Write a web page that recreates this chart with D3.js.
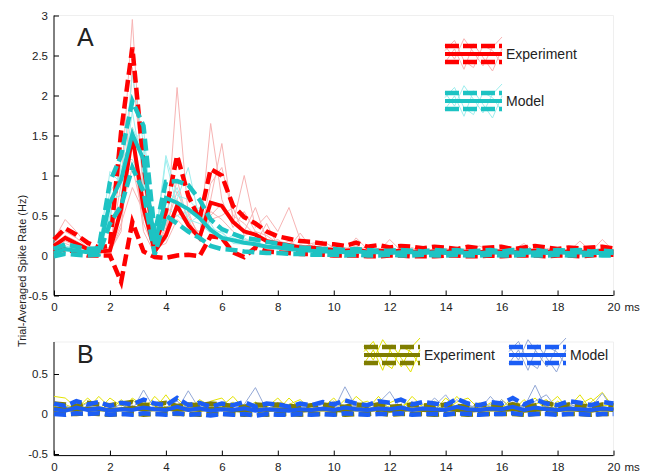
<!DOCTYPE html>
<html>
<head>
<meta charset="utf-8">
<script src="https://cdnjs.cloudflare.com/ajax/libs/d3/7.8.5/d3.min.js"></script>
<style>
body { margin: 0; background: #fff; }
text { font-family: "Liberation Sans", Arial, sans-serif; fill: #222; }
</style>
</head>
<body>
<script>
// time bins (ms)
var timeMs = [0,0.4,0.8,1.2,1.6,2,2.4,2.8,3.2,3.6,4,4.4,4.8,5.2,5.6,6,6.4,6.8,7.2,7.6,8,8.4,8.8,9.2,9.6,10,
  10.4,10.8,11.2,11.6,12,12.4,12.8,13.2,13.6,14,14.4,14.8,15.2,15.6,16,16.4,16.8,17.2,17.6,18,18.4,18.8,19.2,19.6,20];
var xTicks = [0,2,4,6,8,10,12,14,16,18,20];
var yTicksA = [-0.5,0,0.5,1,1.5,2,2.5,3];
var yTicksB = [-0.5,0,0.5];

// panel A : experiment (mean, mean+sd, mean-sd)
var expMeanA = [0.12,0.22,0.15,0.08,0.05,0.06,0.58,1.50,0.60,0.05,0.25,0.62,0.38,0.22,0.66,0.62,0.42,0.30,0.26,0.18,0.15,0.13,0.10,0.10,0.08,0.07,
  0.06,0.07,0.05,0.06,0.05,0.06,0.05,0.04,0.05,0.05,0.04,0.05,0.04,0.05,0.05,0.04,0.05,0.06,0.05,0.04,0.05,0.04,0.05,0.06,0.05];
var expUpperA = [0.20,0.34,0.26,0.16,0.10,0.12,1.55,2.60,1.15,0.12,0.55,1.25,0.75,0.45,1.08,1.00,0.62,0.48,0.40,0.30,0.24,0.21,0.18,0.17,0.15,0.14,
  0.12,0.16,0.11,0.13,0.10,0.12,0.11,0.09,0.11,0.10,0.08,0.11,0.09,0.10,0.11,0.08,0.10,0.12,0.10,0.08,0.10,0.09,0.10,0.11,0.09];
var expLowerA = [0.04,0.08,0.04,0.00,0.00,0.00,-0.33,0.42,0.05,-0.02,-0.03,0.00,0.01,-0.01,0.24,0.22,0.04,-0.02,0.10,0.05,0.04,0.03,0.02,0.02,0.01,0.00,
  0.00,0.00,-0.01,-0.01,0.00,0.00,-0.01,-0.01,-0.01,0.00,0.00,-0.01,-0.01,0.00,-0.01,0.00,0.00,0.00,-0.01,0.00,0.00,-0.01,0.00,0.01,0.01];
// panel A : model
var modMeanA = [0.03,0.08,0.06,0.04,0.05,0.66,0.95,1.52,1.20,0.14,0.72,0.66,0.58,0.47,0.32,0.22,0.19,0.16,0.14,0.11,0.10,0.08,0.07,0.06,0.05,0.05,
  0.04,0.05,0.04,0.04,0.03,0.04,0.04,0.03,0.04,0.03,0.04,0.03,0.03,0.04,0.03,0.04,0.03,0.04,0.03,0.04,0.03,0.04,0.03,0.03,0.03];
var modUpperA = [0.08,0.14,0.11,0.08,0.09,0.92,1.25,1.93,1.62,0.28,0.92,0.93,0.88,0.70,0.45,0.33,0.27,0.22,0.20,0.17,0.15,0.12,0.10,0.09,0.08,0.08,
  0.07,0.08,0.07,0.06,0.06,0.07,0.06,0.05,0.07,0.06,0.07,0.05,0.06,0.07,0.05,0.07,0.06,0.07,0.05,0.07,0.06,0.07,0.05,0.06,0.05];
var modLowerA = [-0.01,0.02,0.01,0.00,0.01,0.40,0.62,1.10,0.80,0.01,0.50,0.40,0.30,0.22,0.12,0.08,0.07,0.05,0.04,0.03,0.03,0.02,0.02,0.01,0.01,0.01,
  0.00,0.01,0.00,0.00,0.01,0.00,0.00,0.01,0.00,0.00,0.01,0.00,0.00,0.01,0.00,0.00,0.01,0.00,0.00,0.01,0.00,0.00,0.01,0.00,0.00];

// panel A : single trials
var expTrialsA = [
  [0.15,0.30,0.22,0.10,0.05,0.08,0.90,2.95,0.70,0.05,0.30,0.95,0.40,0.20,0.90,1.10,0.50,0.40,0.25,0.20,0.12,0.18,0.10,0.12,0.08,0.10,
   0.05,0.10,0.06,0.08,0.04,0.10,0.06,0.05,0.08,0.06,0.05,0.07,0.04,0.08,0.06,0.05,0.09,0.07,0.05,0.04,0.08,0.05,0.06,0.09,0.05],
  [0.10,0.18,0.12,0.06,0.04,0.05,0.30,2.35,0.90,0.08,0.20,2.10,0.50,0.25,0.45,0.50,0.60,0.25,0.30,0.15,0.20,0.10,0.14,0.08,0.10,0.06,
   0.08,0.05,0.12,0.04,0.06,0.08,0.05,0.10,0.04,0.07,0.06,0.09,0.05,0.06,0.04,0.08,0.05,0.10,0.06,0.05,0.07,0.04,0.08,0.05,0.06],
  [0.20,0.45,0.30,0.12,0.08,0.04,1.20,1.40,0.30,0.02,0.35,0.80,0.45,0.20,1.65,0.70,0.35,0.55,0.30,0.25,0.15,0.12,0.08,0.15,0.06,0.05,
   0.10,0.06,0.04,0.09,0.07,0.05,0.10,0.04,0.06,0.05,0.10,0.04,0.06,0.05,0.08,0.05,0.06,0.04,0.09,0.06,0.05,0.08,0.05,0.07,0.06],
  [0.08,0.25,0.18,0.10,0.06,0.10,0.55,1.10,0.50,0.10,0.15,0.45,0.30,0.25,0.70,1.40,0.45,0.30,0.60,0.20,0.18,0.15,0.12,0.10,0.12,0.08,
   0.06,0.08,0.05,0.06,0.08,0.04,0.05,0.06,0.05,0.09,0.04,0.05,0.07,0.04,0.06,0.05,0.04,0.06,0.05,0.08,0.04,0.06,0.05,0.06,0.04],
  [0.10,0.15,0.10,0.08,0.04,0.06,0.40,0.85,0.55,0.02,0.40,0.50,0.55,0.20,0.55,0.45,0.30,0.20,0.15,0.40,0.12,0.10,0.28,0.09,0.07,0.12,
   0.05,0.22,0.08,0.05,0.20,0.06,0.04,0.07,0.05,0.06,0.08,0.05,0.12,0.06,0.05,0.07,0.15,0.05,0.06,0.07,0.05,0.18,0.05,0.20,0.06],
  [0.12,0.20,0.14,0.08,0.05,0.04,0.35,1.60,0.40,0.06,0.20,0.70,0.35,0.30,0.50,0.65,0.40,1.00,0.35,0.50,0.30,0.60,0.20,0.15,0.18,0.10,
   0.08,0.12,0.06,0.05,0.08,0.06,0.05,0.04,0.07,0.05,0.06,0.04,0.05,0.07,0.04,0.05,0.06,0.05,0.04,0.06,0.05,0.07,0.04,0.05,0.06]
];
var modTrialsA = [
  [0.05,0.12,0.08,0.04,0.06,1.05,0.90,2.25,1.40,0.20,0.80,0.70,1.10,0.45,0.30,0.25,0.20,0.15,0.18,0.10,0.12,0.08,0.10,0.06,0.05,0.07,
   0.04,0.06,0.05,0.04,0.06,0.03,0.05,0.04,0.06,0.03,0.05,0.04,0.03,0.06,0.04,0.05,0.03,0.05,0.04,0.06,0.03,0.05,0.04,0.03,0.04],
  [0.02,0.06,0.05,0.03,0.04,0.50,1.10,1.40,1.60,0.10,1.20,0.60,0.50,0.60,0.35,0.20,0.22,0.18,0.12,0.14,0.08,0.10,0.06,0.07,0.05,0.04,
   0.05,0.06,0.03,0.05,0.04,0.05,0.03,0.04,0.05,0.04,0.03,0.05,0.04,0.03,0.05,0.04,0.06,0.03,0.04,0.05,0.04,0.03,0.05,0.04,0.03],
  [0.03,0.10,0.04,0.05,0.03,0.70,0.75,1.80,1.00,0.05,0.55,0.85,0.45,0.40,0.28,0.30,0.15,0.14,0.16,0.08,0.09,0.06,0.05,0.06,0.04,0.05,
   0.03,0.04,0.06,0.03,0.04,0.06,0.04,0.03,0.04,0.05,0.04,0.03,0.04,0.05,0.03,0.04,0.05,0.04,0.03,0.04,0.05,0.04,0.03,0.04,0.05],
  [0.04,0.05,0.07,0.03,0.05,0.45,1.20,1.20,0.90,0.25,0.60,0.50,0.40,0.50,0.40,0.18,0.25,0.20,0.10,0.12,0.10,0.07,0.08,0.05,0.06,0.04,
   0.05,0.04,0.05,0.06,0.03,0.04,0.05,0.03,0.04,0.03,0.05,0.04,0.03,0.04,0.05,0.04,0.03,0.04,0.05,0.03,0.04,0.03,0.05,0.04,0.03],
  [0.06,0.09,0.05,0.06,0.04,0.80,1.00,1.60,1.30,0.15,1.25,0.75,0.70,0.55,0.35,0.28,0.18,0.22,0.14,0.12,0.10,0.09,0.07,0.08,0.05,0.06,
   0.04,0.05,0.04,0.06,0.03,0.05,0.04,0.05,0.03,0.04,0.06,0.04,0.03,0.05,0.04,0.03,0.05,0.04,0.06,0.03,0.04,0.05,0.03,0.04,0.05]
];

// panel B : experiment
var expMeanB = [0.07,0.06,0.05,0.07,0.06,0.05,0.06,0.08,0.05,0.06,0.07,0.05,0.06,0.05,0.07,0.06,0.05,0.04,0.06,0.05,0.06,0.05,0.04,0.05,0.06,0.05,
  0.04,0.06,0.05,0.06,0.04,0.05,0.06,0.05,0.04,0.06,0.05,0.04,0.05,0.06,0.05,0.06,0.04,0.05,0.07,0.05,0.06,0.05,0.04,0.06,0.05];
var expUpperB = [0.13,0.12,0.10,0.14,0.12,0.11,0.13,0.15,0.11,0.12,0.14,0.10,0.12,0.11,0.13,0.12,0.10,0.09,0.12,0.11,0.12,0.10,0.09,0.11,0.12,0.10,
  0.09,0.12,0.10,0.12,0.09,0.10,0.12,0.11,0.09,0.12,0.10,0.09,0.11,0.12,0.10,0.12,0.09,0.11,0.14,0.10,0.12,0.11,0.09,0.12,0.11];
var expLowerB = [0.01,0.00,0.00,0.01,0.00,-0.01,0.00,0.01,-0.01,0.00,0.01,0.00,0.00,-0.01,0.01,0.00,0.00,-0.01,0.00,-0.01,0.00,0.00,-0.01,0.00,0.00,0.00,
  -0.01,0.00,0.00,0.01,-0.01,0.00,0.00,0.00,-0.01,0.00,0.00,-0.01,0.00,0.00,0.00,0.00,-0.01,0.00,0.01,0.00,0.00,0.00,-0.01,0.00,0.00];
// panel B : model
var modMeanB = [0.06,0.04,0.08,0.05,0.07,0.04,0.06,0.05,0.08,0.06,0.05,0.09,0.05,0.07,0.04,0.06,0.05,0.07,0.04,0.06,0.05,0.04,0.06,0.05,0.07,0.05,
  0.08,0.06,0.05,0.07,0.06,0.08,0.05,0.07,0.06,0.05,0.09,0.06,0.05,0.07,0.06,0.09,0.05,0.08,0.06,0.05,0.07,0.06,0.05,0.07,0.06];
var modUpperB = [0.13,0.10,0.16,0.12,0.15,0.10,0.14,0.12,0.18,0.13,0.11,0.20,0.11,0.14,0.09,0.13,0.11,0.15,0.09,0.13,0.12,0.09,0.13,0.11,0.15,0.12,
  0.17,0.13,0.11,0.16,0.14,0.18,0.12,0.15,0.13,0.11,0.19,0.13,0.11,0.15,0.13,0.20,0.12,0.18,0.13,0.11,0.16,0.14,0.11,0.15,0.13];
var modLowerB = [0.00,-0.01,0.01,0.00,0.01,-0.01,0.00,-0.01,0.01,0.00,-0.01,0.01,-0.01,0.00,-0.02,0.00,-0.01,0.00,-0.02,0.00,-0.01,-0.01,0.00,-0.01,0.00,-0.01,
  0.01,0.00,-0.01,0.00,0.00,0.01,-0.01,0.00,0.00,-0.01,0.01,0.00,-0.01,0.00,0.00,0.01,-0.01,0.00,0.00,-0.01,0.00,0.00,-0.01,0.00,0.00];
var expTrialsB = [
  [0.22,0.20,0.08,0.15,0.05,0.20,0.10,0.18,0.04,0.22,0.08,0.12,0.05,0.18,0.10,0.06,0.15,0.04,0.12,0.08,0.20,0.05,0.10,0.06,0.15,0.04,
   0.18,0.08,0.06,0.22,0.05,0.10,0.15,0.06,0.04,0.20,0.08,0.10,0.05,0.14,0.06,0.22,0.05,0.12,0.18,0.06,0.10,0.05,0.15,0.27,0.08],
  [0.10,0.05,0.14,0.06,0.22,0.08,0.04,0.20,0.10,0.06,0.24,0.05,0.12,0.04,0.16,0.20,0.05,0.10,0.06,0.14,0.04,0.20,0.06,0.12,0.05,0.16,
   0.06,0.22,0.10,0.05,0.14,0.20,0.04,0.12,0.16,0.05,0.22,0.06,0.14,0.05,0.18,0.06,0.10,0.20,0.04,0.16,0.08,0.24,0.05,0.10,0.12],
  [0.05,0.12,0.06,0.20,0.08,0.04,0.18,0.06,0.15,0.10,0.04,0.20,0.06,0.12,0.05,0.10,0.22,0.06,0.15,0.04,0.10,0.12,0.18,0.05,0.08,0.20,
   0.04,0.12,0.16,0.06,0.10,0.05,0.22,0.08,0.12,0.04,0.15,0.20,0.06,0.10,0.12,0.04,0.18,0.06,0.10,0.22,0.05,0.12,0.20,0.06,0.10]
];
var modTrialsB = [
  [0.08,0.04,0.12,0.06,0.10,0.03,0.08,0.05,0.30,0.06,0.04,0.12,0.05,0.10,0.04,0.08,0.06,0.12,0.33,0.05,0.08,0.04,0.10,0.06,0.12,0.05,
   0.34,0.08,0.05,0.10,0.06,0.12,0.04,0.10,0.06,0.05,0.18,0.08,0.05,0.12,0.06,0.15,0.08,0.36,0.06,0.05,0.12,0.08,0.04,0.10,0.06],
  [0.04,0.10,0.06,0.14,0.05,0.12,0.04,0.10,0.08,0.06,0.14,0.05,0.29,0.06,0.10,0.04,0.12,0.05,0.10,0.06,0.14,0.05,0.08,0.12,0.05,0.10,
   0.06,0.12,0.04,0.14,0.28,0.06,0.10,0.05,0.20,0.08,0.06,0.12,0.05,0.22,0.06,0.10,0.05,0.16,0.24,0.06,0.10,0.05,0.14,0.06,0.10],
  [0.06,0.08,0.04,0.10,0.08,0.06,0.12,0.04,0.14,0.05,0.08,0.16,0.06,0.04,0.12,0.06,0.08,0.04,0.14,0.06,0.10,0.05,0.12,0.04,0.08,0.16,
   0.06,0.10,0.04,0.12,0.08,0.05,0.16,0.06,0.10,0.24,0.05,0.08,0.12,0.06,0.18,0.05,0.12,0.06,0.10,0.05,0.14,0.06,0.08,0.26,0.05]
];

// little zigzags drawn inside the legend samples (-1..1)
var legendZig = [
  [0.5,-0.3,0.9,0.1,-0.7,0.4,1.0],
  [-0.5,0.3,-0.9,0.6,-0.2,-1.0,0.3],
  [0.2,0.8,-0.4,-0.8,0.5,0.2,-0.6]
];

var width = 649, height = 476;
var svg = d3.select('body').append('svg')
  .attr('width', width)
  .attr('height', height);

var x = d3.scaleLinear().domain([0, 20]).range([54, 613.5]);
var yA = d3.scaleLinear().domain([-0.5, 3]).range([295.5, 15.5]);
var yB = d3.scaleLinear().domain([-0.52, 0.9]).range([455.6, 342]);

var colors = {
  red: '#ff0000', pink: '#f7b4b4',
  teal: '#1dc3c3', cyanLight: '#9eeeee',
  olive: '#7f7d00', yellow: '#e3e300',
  blue: '#1b5df5', blueLight: '#93a8d6'
};

function drawAxes(y, yTicks, yTop, yBottom) {
  // faint box top / right
  svg.append('path')
    .attr('d', 'M' + x(0) + ',' + yTop + 'H' + x(20) + 'V' + yBottom)
    .attr('fill', 'none')
    .attr('stroke', '#efefef')
    .attr('stroke-width', 1);

  var xa = svg.append('g')
    .attr('transform', 'translate(0,' + yBottom + ')')
    .call(d3.axisBottom(x).tickValues(xTicks).tickSizeInner(-5).tickSizeOuter(0).tickPadding(7)
      .tickFormat(function(d) { return String(d); }));
  xa.selectAll('text').style('font-size', '11.5px').attr('fill', '#222');
  xa.selectAll('.tick').filter(function(d) { return d == 20; })
    .append('text')
    .attr('x', 10.5)
    .attr('y', 7)
    .attr('dy', '0.71em')
    .attr('text-anchor', 'start')
    .attr('fill', '#222')
    .style('font-size', '11.5px')
    .text('ms');

  var ya = svg.append('g')
    .attr('transform', 'translate(' + x(0) + ',0)')
    .call(d3.axisLeft(y).tickValues(yTicks).tickSizeInner(-5).tickSizeOuter(0).tickPadding(6)
      .tickFormat(function(d) { return String(d); }));
  ya.selectAll('text').style('font-size', '11.5px').attr('fill', '#222');

  svg.selectAll('.domain, .tick line').attr('stroke', '#000');
  xa.select('.domain').attr('d', 'M' + x(0) + ',0H' + x(20));
  ya.select('.domain').attr('d', 'M0,' + y.range()[0] + 'V' + yTop);
}

function drawGroup(g, y, mean, upper, lower, trials, thick, thin) {
  var line = d3.line()
    .x(function(d, i) { return x(timeMs[i]); })
    .y(function(d) { return y(d); });
  g.append('g').selectAll('path')
    .data(trials)
    .enter().append('path')
    .attr('d', line)
    .attr('fill', 'none')
    .attr('stroke', thin)
    .attr('stroke-width', 1);
  return function() {
    g.append('g').selectAll('path')
      .data([upper, lower])
      .enter().append('path')
      .attr('d', line)
      .attr('fill', 'none')
      .attr('stroke', thick)
      .attr('stroke-width', 4.5)
      .attr('stroke-dasharray', '12,5');
    g.append('path')
      .datum(mean)
      .attr('d', line)
      .attr('fill', 'none')
      .attr('stroke', thick)
      .attr('stroke-width', 4);
  };
}

function drawLegend(x0, x1, yc, thick, thin, label) {
  var lg = svg.append('g');
  var lx = d3.scaleLinear().domain([0, legendZig[0].length - 1]).range([x0, x1]);
  var ly = d3.scaleLinear().domain([-1, 1]).range([yc + 17, yc - 17]);
  lg.selectAll('path.zig')
    .data(legendZig)
    .enter().append('path')
    .attr('class', 'zig')
    .attr('d', d3.line().x(function(d, i) { return lx(i); }).y(function(d) { return ly(d); }))
    .attr('fill', 'none')
    .attr('stroke', thin)
    .attr('stroke-width', 1);
  [-8, 8].forEach(function(off) {
    lg.append('line')
      .attr('x1', x0).attr('x2', x1)
      .attr('y1', yc + off).attr('y2', yc + off)
      .attr('stroke', thick)
      .attr('stroke-width', 4.5)
      .attr('stroke-dasharray', '14,4');
  });
  lg.append('line')
    .attr('x1', x0).attr('x2', x1)
    .attr('y1', yc).attr('y2', yc)
    .attr('stroke', thick)
    .attr('stroke-width', 4);
  lg.append('text')
    .attr('x', x1 + 4)
    .attr('y', yc + 5)
    .style('font-size', '14px')
    .text(label);
}

// ---- panel A
drawAxes(yA, yTicksA, 15.5, 295.5);
var gA = svg.append('g');
var expA = drawGroup(gA, yA, expMeanA, expUpperA, expLowerA, expTrialsA, colors.red, colors.pink);
var modA = drawGroup(gA, yA, modMeanA, modUpperA, modLowerA, modTrialsA, colors.teal, colors.cyanLight);
expA();
modA();
svg.append('text').attr('x', 77).attr('y', 46).style('font-size', '25px').attr('fill', '#000').text('A');
drawLegend(445, 502, 54, colors.red, colors.pink, 'Experiment');
drawLegend(445, 502, 101, colors.teal, colors.cyanLight, 'Model');

// ---- panel B
drawAxes(yB, yTicksB, 342, 455.6);
var gB = svg.append('g');
var expB = drawGroup(gB, yB, expMeanB, expUpperB, expLowerB, expTrialsB, colors.olive, colors.yellow);
var modB = drawGroup(gB, yB, modMeanB, modUpperB, modLowerB, modTrialsB, colors.blue, colors.blueLight);
expB();
modB();
svg.append('text').attr('x', 77).attr('y', 363).style('font-size', '25px').attr('fill', '#000').text('B');
drawLegend(364, 420, 355, colors.olive, colors.yellow, 'Experiment');
drawLegend(509, 566, 355, colors.blue, colors.blueLight, 'Model');

// shared y label
svg.append('text')
  .attr('transform', 'rotate(-90)')
  .attr('x', -271)
  .attr('y', 26)
  .attr('text-anchor', 'middle')
  .style('font-size', '11px')
  .text('Trial-Averaged Spike Rate (Hz)');
</script>
</body>
</html>
